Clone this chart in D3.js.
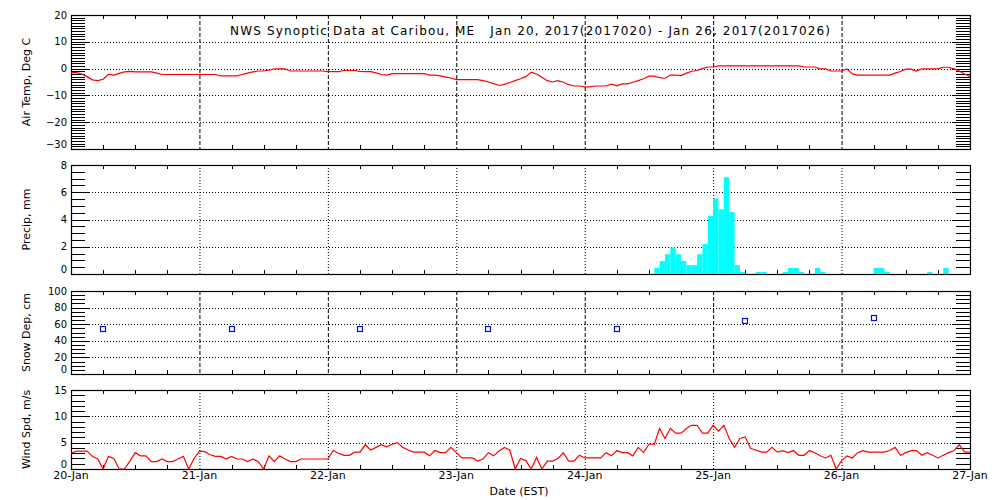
<!DOCTYPE html>
<html><head><meta charset="utf-8">
<script src="https://cdn.jsdelivr.net/npm/d3@7"></script>
<style>
body{margin:0;background:#fff;}
svg{display:block;font-family:"DejaVu Sans",sans-serif;}
</style></head>
<body><svg id="c" width="1000" height="500"></svg>
<script>
// ---- data ----
const dayLabels = ["20-Jan","21-Jan","22-Jan","23-Jan","24-Jan","25-Jan","26-Jan","27-Jan"];
const titleText = "NWS Synoptic Data at Caribou, ME   Jan 20, 2017(2017020) - Jan 26, 2017(2017026)";
// hourly air temperature, deg C, hours 0..168 from 20-Jan 00 EST
const airTemp = [
-1.5,-1.5,-2.0,-3.0,-4.2,-4.5,-4.0,-2.2,-2.4,-1.8,-1.2,-1.0,-1.2,-1.2,-1.2,-1.2,-1.7,-2.2,-2.2,-2.2,-2.2,-2.2,-2.2,-2.2,
-2.2,-2.2,-2.2,-2.2,-2.7,-2.7,-2.7,-2.7,-2.2,-1.7,-1.2,-0.9,-0.9,-0.6,-0.1,-0.1,-0.1,-0.9,-0.9,-0.9,-0.9,-0.9,-0.9,-0.9,
-1.1,-1.1,-1.1,-0.7,-0.7,-0.7,-1.0,-1.1,-1.1,-1.6,-2.2,-2.4,-1.9,-1.9,-1.9,-1.9,-1.9,-1.9,-1.9,-2.4,-2.4,-2.7,-3.2,-3.5,
-4.1,-4.1,-4.1,-4.1,-4.1,-4.5,-5.0,-5.6,-6.3,-5.9,-5.2,-4.5,-3.8,-3.0,-1.3,-2.0,-3.2,-4.5,-5.0,-4.5,-5.1,-6.0,-6.5,-6.5,
-6.8,-6.8,-6.5,-6.5,-6.5,-5.8,-6.4,-5.7,-5.7,-5.1,-4.5,-3.8,-2.8,-2.8,-3.4,-3.6,-2.4,-2.4,-2.6,-1.7,-1.0,-0.7,0.0,0.6,
0.6,1.0,1.0,1.0,1.0,1.0,1.0,1.0,1.0,1.0,1.0,1.0,1.0,1.0,1.0,1.0,1.0,0.6,0.6,0.6,-0.1,-0.1,-0.9,-0.9,
-0.9,-0.1,-2.0,-2.4,-2.4,-2.4,-2.4,-2.4,-2.4,-2.4,-1.7,-1.1,-0.2,-0.2,-0.9,-0.1,-0.1,-0.1,-0.1,0.5,0.5,-0.1,-0.9,-2.0,
-2.9];
// hourly precipitation, mm (only non-zero hours listed)
const precipHours  = [109,110,111,112,113,114,115,116,117,118,119,120,121,122,123,124,125,128,129,133,134,135,136,139,140,150,151,152,160,163];
const precipValues = [0.45,0.95,1.45,1.95,1.45,0.95,0.65,0.65,1.45,2.2,4.25,5.55,4.75,7.1,4.55,0.65,0.15,0.15,0.15,0.15,0.45,0.45,0.15,0.45,0.15,0.45,0.45,0.15,0.15,0.45];
// snow depth, cm
const snowHours  = [6,30,54,78,102,126,150];
const snowValues = [54,54,54,54,54,64,67];
// hourly wind speed, m/s
const windSpeed = [
3.0,3.4,3.4,3.4,2.4,1.9,0.0,2.4,2.0,0.0,0.0,1.5,3.1,2.5,2.5,1.4,1.4,1.9,1.4,1.4,1.9,2.4,0.0,2.0,
3.4,3.3,2.7,2.4,2.4,1.9,2.4,1.9,1.9,1.4,1.9,1.4,0.0,2.5,1.4,2.5,1.9,1.4,1.4,1.9,1.9,1.9,1.9,1.9,
1.9,3.5,3.0,2.6,2.6,3.2,3.2,4.6,3.6,4.1,4.6,4.2,4.7,5.0,4.1,3.6,3.2,3.2,3.2,2.5,3.5,3.1,3.1,4.1,
3.1,2.1,2.1,2.1,1.5,1.9,3.1,2.5,3.4,4.1,3.6,0.0,2.0,1.6,0.0,2.2,0.0,1.5,1.5,2.0,3.1,1.5,1.5,2.6,
2.1,2.1,2.1,2.1,3.1,2.5,3.5,3.1,3.1,2.5,4.1,3.1,4.7,4.7,7.7,5.8,7.7,6.8,6.8,7.7,8.3,8.3,6.8,6.8,
8.3,7.2,8.3,5.8,4.1,5.8,6.1,3.9,3.6,3.2,3.2,4.1,3.2,3.5,3.1,3.5,2.6,2.6,3.5,3.1,2.5,2.1,2.6,0.0,
1.6,2.5,2.1,3.1,3.5,3.2,3.2,3.2,3.2,3.5,4.1,2.6,3.1,3.5,3.5,2.6,3.1,2.6,2.1,2.6,3.1,3.5,4.6,3.2,
3.2];

// ---- layout ----
const svg = d3.select("#c");
const X0 = 71, X1 = 970;
const x = d3.scaleLinear().domain([0,168]).range([X0,X1]);
const dayTicks = d3.range(0,169,24);
const sixTicks = d3.range(0,169,6).filter(h => h%24 !== 0);

const panels = [
  {label:"Air Temp, Deg C", top:15, bot:149, dom:[-30,20], major:[-30,-20,-10,0,10,20], grid:[-20,-10,0,10], minor:1, vdash:"4,2"},
  {label:"Precip, mm", top:165, bot:274, dom:[0,8], major:[0,2,4,6,8], grid:[2,4,6], minor:0.5, vdash:"1,2"},
  {label:"Snow Dep, cm", top:291, bot:374, dom:[0,100], major:[0,20,40,60,80,100], grid:[20,40,60,80], minor:5, vdash:"4,2"},
  {label:"Wind Spd, m/s", top:390, bot:469, dom:[0,15], major:[0,5,10,15], grid:[5,10], minor:1, vdash:"1,2"}
];

panels.forEach(p => {
  p.y = d3.scaleLinear().domain(p.dom).range([p.bot,p.top]);
  const g = svg.append("g");
  // vertical day gridlines
  g.selectAll(null).data(dayTicks.slice(1,-1)).join("line")
    .attr("x1",d=>x(d)+0.5).attr("x2",d=>x(d)+0.5).attr("y1",p.top).attr("y2",p.bot)
    .attr("stroke","#000").attr("stroke-dasharray",p.vdash);
  // horizontal gridlines
  g.selectAll(null).data(p.grid).join("line")
    .attr("x1",X0).attr("x2",X1).attr("y1",d=>Math.round(p.y(d))+0.5).attr("y2",d=>Math.round(p.y(d))+0.5)
    .attr("stroke","#000").attr("stroke-dasharray","1,2");
  // minor y ticks left/right
  const n = Math.round((p.dom[1]-p.dom[0])/p.minor);
  const minorVals = d3.range(n+1).map(i => p.dom[0]+i*p.minor);
  const yl = g.append("g");
  minorVals.forEach(v => {
    const yy = Math.round(p.y(v))+0.5;
    const isMaj = p.major.includes(v);
    const len = isMaj ? 18 : 14;
    yl.append("line").attr("x1",X0).attr("x2",X0+len).attr("y1",yy).attr("y2",yy).attr("stroke","#000");
    yl.append("line").attr("x1",X1-len).attr("x2",X1).attr("y1",yy).attr("y2",yy).attr("stroke","#000");
  });
  // x 6-hour ticks top/bottom
  g.selectAll(null).data(sixTicks).join("line")
    .attr("x1",d=>Math.round(x(d))+0.5).attr("x2",d=>Math.round(x(d))+0.5).attr("y1",p.top).attr("y2",p.top+4).attr("stroke","#000");
  g.selectAll(null).data(sixTicks).join("line")
    .attr("x1",d=>Math.round(x(d))+0.5).attr("x2",d=>Math.round(x(d))+0.5).attr("y1",p.bot-4).attr("y2",p.bot).attr("stroke","#000");
  // frame
  g.append("rect").attr("x",X0+0.5).attr("y",p.top+0.5).attr("width",X1-X0).attr("height",p.bot-p.top)
    .attr("fill","none").attr("stroke","#000").attr("stroke-width",1.2);
  // tick labels
  const fmt = d3.format("d");
  g.selectAll(null).data(p.major).join("text")
    .attr("x",67).attr("y",d => d===p.dom[0] ? p.y(d)-1 : p.y(d)+3.6)
    .attr("text-anchor","end").attr("font-size",10).text(d=>fmt(d));
  // axis title
  const cy = (p.top+p.bot)/2;
  g.append("text").attr("transform",`translate(30,${cy}) rotate(-90)`)
    .attr("text-anchor","middle").attr("font-size",11).text(p.label);
});

const [pT,pP,pS,pW] = panels;

// temperature line
svg.append("path").datum(airTemp)
  .attr("d", d3.line().x((d,i)=>x(i)).y(d=>pT.y(d)))
  .attr("fill","none").attr("stroke","#ff0000").attr("stroke-width",1.2);

// precip bars
svg.append("g").selectAll("rect").data(precipHours.map((h,i)=>({h, v:precipValues[i]}))).join("rect")
  .attr("x",d=>x(d.h)).attr("width",d=>x(d.h+1)-x(d.h))
  .attr("y",d=>pP.y(d.v)).attr("height",d=>pP.y(0)-pP.y(d.v))
  .attr("fill","#00ffff");

// snow squares
svg.append("g").selectAll("rect").data(snowHours.map((h,i)=>({h, v:snowValues[i]}))).join("rect")
  .attr("x",d=>Math.round(x(d.h))-2.5).attr("y",d=>Math.round(pS.y(d.v))-2.5)
  .attr("width",5).attr("height",5).attr("fill","none").attr("stroke","#0010d0").attr("stroke-width",1.2);

// wind line
svg.append("path").datum(windSpeed)
  .attr("d", d3.line().x((d,i)=>x(i)).y(d=>pW.y(d)))
  .attr("fill","none").attr("stroke","#ff0000").attr("stroke-width",1.2);

// date labels
svg.append("g").selectAll("text").data(dayTicks).join("text")
  .attr("x",(d,i)=>x(d)).attr("y",479).attr("text-anchor","middle").attr("font-size",11)
  .text((d,i)=>dayLabels[i]);
svg.append("text").attr("x",519).attr("y",495).attr("text-anchor","middle").attr("font-size",11).text("Date (EST)");

// title
svg.append("text").attr("x",230).attr("y",35).attr("font-size",12)
  .attr("textLength",600).attr("lengthAdjust","spacing").attr("xml:space","preserve")
  .style("white-space","pre").text(titleText);
</script></body></html>
